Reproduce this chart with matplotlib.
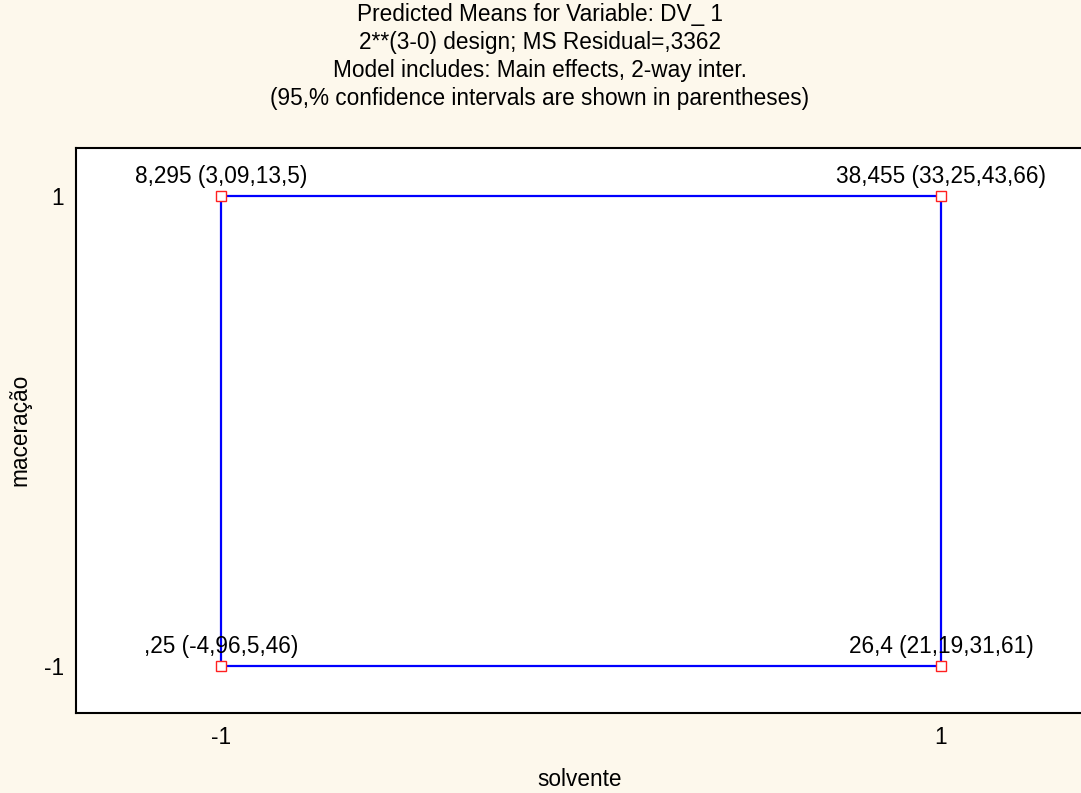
import matplotlib
matplotlib.use("Agg")
import matplotlib.pyplot as plt

solvente = [-1, -1, 1, 1]
maceracao = [-1, 1, 1, -1]
means = [0.25, 8.295, 38.455, 26.4]
ci_low = [-4.96, 3.09, 33.25, 21.19]
ci_high = [5.46, 13.5, 43.66, 31.61]

title_lines = [
    "Predicted Means for Variable: DV_ 1",
    "2**(3-0) design; MS Residual=,3362",
    "Model includes: Main effects, 2-way inter.",
    "(95,% confidence intervals are shown in parentheses)",
]

def fmt(v):
    s = f"{v:g}".replace(".", ",")
    if s.startswith("0,"):
        s = s[1:]
    elif s.startswith("-0,"):
        s = "-" + s[2:]
    return s

plt.rcParams['font.family'] = ['Liberation Sans', 'DejaVu Sans']
FS = 16.3

bg = '#FDF8EC'
fig = plt.figure(figsize=(10.81, 7.93), dpi=100, facecolor=bg)
ax = fig.add_axes([76/1081, 80/793, 1005/1081, 565/793])
ax.set_facecolor('white')

xs = solvente + [solvente[0]]
ys = maceracao + [maceracao[0]]
ax.plot(xs, ys, color='#0000FF', lw=1.6, zorder=2)
ax.plot(solvente, maceracao, ls='none', marker='s', ms=7.8, mfc='white',
        mec='#FF2020', mew=1.0, zorder=3)

for x, y, m, lo, hi in zip(solvente, maceracao, means, ci_low, ci_high):
    ax.annotate(f"{fmt(m)} ({fmt(lo)},{fmt(hi)})", (x, y), xytext=(0, 13),
                textcoords='offset pixels', ha='center', va='baseline',
                fontsize=FS, color='black', zorder=4)

ax.set_xlim(-1.403, 1.389)
ax.set_ylim(-1.2, 1.204)
ax.set_xticks([-1, 1])
ax.set_xticklabels(['-1', '1'])
ax.set_yticks([-1, 1])
ax.set_yticklabels(['-1', '1'])
ax.tick_params(length=0, labelsize=FS)
ax.tick_params(axis='x', pad=9)
ax.tick_params(axis='y', pad=8.5)
for s in ['left', 'top', 'bottom']:
    ax.spines[s].set_linewidth(1.5)
    ax.spines[s].set_color('black')
ax.spines['right'].set_visible(False)

ax.set_xlabel('solvente', fontsize=FS)
ax.set_ylabel('maceração', fontsize=FS)
ax.xaxis.set_label_coords(0.5 + (580 - 578.5) / 1005, -(779 - 713) / 565)
ax.xaxis.label.set_va('center')
ax.yaxis.set_label_coords(-(76 - 20) / 1005, (713 - 430) / 565)
ax.yaxis.label.set_va('center')

for i, line in enumerate(title_lines):
    fig.text(540/1081, 1 - (14 + 28*i)/793, line, ha='center', va='center',
             fontsize=FS)

fig.savefig('out.png', dpi=100, facecolor=bg)
